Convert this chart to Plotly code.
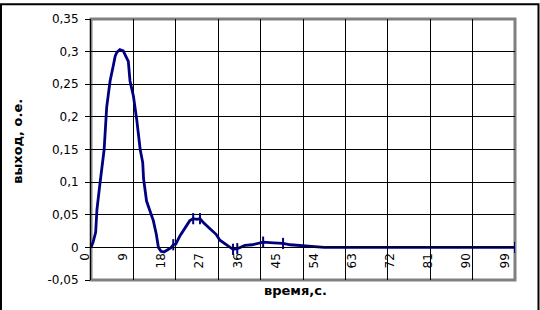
import plotly.graph_objects as go

# time, s
times = [0, 0.5, 1.1, 1.3, 1.4, 2.1, 2.6, 3.1, 3.7, 4.5, 5.3, 5.7, 6.1, 6.8, 7.6,
         8.4, 8.8, 9.2, 10.0, 10.8, 11.6, 12.2, 12.4, 13.1, 14.0, 14.7, 15.4, 15.9,
         16.5, 17.2, 18.0, 18.8, 19.4, 20.0, 21.0, 22.0, 23.3, 24.1, 25.0, 25.7,
         26.5, 28.0, 29.5, 30.4, 31.5, 32.8, 33.5, 34.5, 35.5, 36.3, 38.0, 40.6,
         43.0, 45.3, 47.0, 49.3, 52.0, 55.0, 100.0]
# output
values = [0, 0.008, 0.023, 0.05, 0.058, 0.097, 0.12, 0.15, 0.215, 0.255, 0.28, 0.293,
          0.299, 0.303, 0.301, 0.291, 0.285, 0.255, 0.232, 0.195, 0.15, 0.13, 0.105,
          0.071, 0.055, 0.041, 0.02, 0.0, -0.006, -0.007, -0.004, -0.001, 0.004,
          0.005, 0.018, 0.028, 0.041, 0.044, 0.043, 0.044, 0.038, 0.029, 0.02, 0.011,
          0.006, 0.0, -0.003, -0.002, 0.001, 0.003, 0.004, 0.008, 0.007, 0.006,
          0.004, 0.003, 0.001, 0.0, 0.0]
# indices of points drawn with a marker
marker_idx = [32, 37, 39, 46, 47, 51, 53, 58]

x_tick_vals = [0, 9, 18, 27, 36, 45, 54, 63, 72, 81, 90, 99]
x_tick_text = ["0", "9", "18", "27", "36", "45", "54", "63", "72", "81", "90", "99"]
y_tick_vals = [-0.05, 0, 0.05, 0.1, 0.15, 0.2, 0.25, 0.3, 0.35]
y_tick_text = ["-0,05", "0", "0,05", "0,1", "0,15", "0,2", "0,25", "0,3", "0,35"]

x_title = "время,с."
y_title = "выход, о.е."

navy = "#000080"
font = "DejaVu Sans"

fig = go.Figure()
fig.add_trace(go.Scatter(x=times, y=values, mode="lines",
                         line=dict(color=navy, width=2.8), showlegend=False))
fig.add_trace(go.Scatter(x=[times[i] for i in marker_idx],
                         y=[values[i] for i in marker_idx], mode="markers",
                         marker=dict(symbol="line-ns", size=8,
                                     line=dict(color=navy, width=2)),
                         showlegend=False))

fig.update_layout(
    width=540, height=310,
    margin=dict(l=91, r=25, t=16, b=30),
    paper_bgcolor="white", plot_bgcolor="white",
    font=dict(family=font, size=12, color="black"),
    xaxis=dict(range=[0, 100], tickvals=x_tick_vals, ticktext=x_tick_text,
               tickangle=-90, showgrid=False, zeroline=False,
               anchor="free", position=0.125, showline=True,
               linecolor="black", linewidth=1, ticks="",
               ticklabelshift=-6,
               tickfont=dict(family=font, size=12, color="black"),
               minor=dict(tick0=0, dtick=10, showgrid=True,
                          gridcolor="black", gridwidth=1, ticks="")),
    yaxis=dict(range=[-0.05, 0.35], tickvals=y_tick_vals, ticktext=y_tick_text,
               showgrid=True, gridcolor="black", gridwidth=1, zeroline=False,
               showline=True, linecolor="black", linewidth=1,
               ticks="outside", ticklen=5, tickcolor="black",
               ticklabelstandoff=4,
               tickfont=dict(family=font, size=12, color="black")),
    shapes=[
        dict(type="rect", xref="paper", yref="paper", x0=0, x1=1, y0=0, y1=1,
             line=dict(color="#808080", width=3), layer="between"),
        dict(type="rect", xref="paper", yref="paper", x0=-0.2123, x1=1.0554,
             y0=-0.2, y1=1.0568, line=dict(color="black", width=2), layer="above"),
    ],
    annotations=[
        dict(text=x_title, xref="paper", yref="paper", x=0.483, y=-0.042,
             showarrow=False, font=dict(family=font, size=13, color="black"),
             xanchor="center", yanchor="middle"),
        dict(text=y_title, xref="paper", yref="paper", x=-0.172, y=0.53,
             showarrow=False, textangle=-90,
             font=dict(family=font, size=13, color="black"),
             xanchor="center", yanchor="middle"),
    ],
)
fig.update_annotations(font_weight="bold")

fig.write_html("out.html")
